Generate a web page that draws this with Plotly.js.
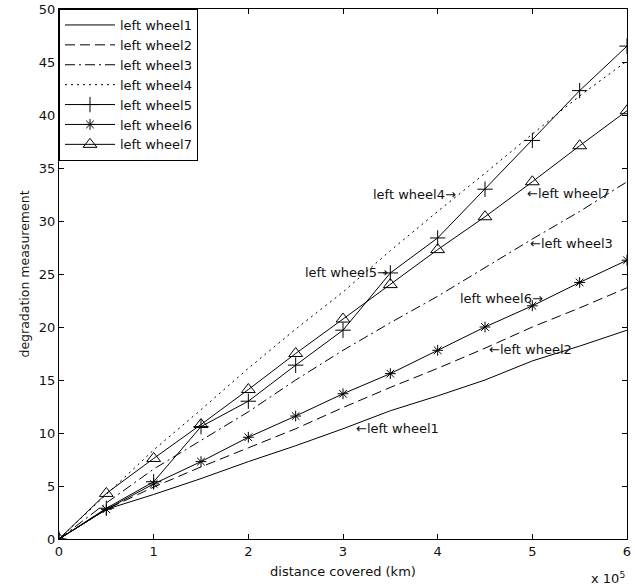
<!DOCTYPE html>
<html>
<head>
<meta charset="utf-8">
<script src="https://cdn.plot.ly/plotly-3.0.1.min.js"></script>
<style>html,body{margin:0;padding:0;background:#fff;}#chart{width:635px;height:588px;}</style>
</head>
<body>
<div id="chart"></div>
<script>
// distance covered, in units of 10^5 km
const distance = [0, 0.5, 1, 1.5, 2, 2.5, 3, 3.5, 4, 4.5, 5, 5.5, 6];
const wheel1 = [0, 2.8, 4.2, 5.7, 7.3, 8.8, 10.4, 12.1, 13.5, 15.0, 16.8, 18.2, 19.7];
const wheel2 = [0, 2.8, 4.9, 6.8, 8.6, 10.4, 12.4, 14.3, 16.1, 18.0, 20.0, 21.8, 23.7];
const wheel3 = [0, 3.4, 6.6, 9.3, 12.0, 15.0, 17.8, 20.4, 22.9, 25.6, 28.3, 30.9, 33.7];
const wheel4 = [0, 4.2, 8.4, 12.2, 16.1, 19.8, 23.3, 27.2, 30.9, 34.5, 38.2, 41.8, 45.1];
const wheel5 = [0, 2.9, 5.4, 10.6, 13.0, 16.4, 19.7, 25.1, 28.4, 33.0, 37.6, 42.3, 46.5];
const wheel6 = [0, 2.8, 5.2, 7.3, 9.6, 11.6, 13.7, 15.6, 17.8, 20.0, 22.0, 24.2, 26.3];
const wheel7 = [0, 4.3, 7.6, 10.8, 14.1, 17.5, 20.75, 24.0, 27.3, 30.4, 33.7, 37.1, 40.4];
const names = ["left wheel1", "left wheel2", "left wheel3", "left wheel4", "left wheel5", "left wheel6", "left wheel7"];
const xTicks = [0, 1, 2, 3, 4, 5, 6];
const xTickText = ["0", "1", "2", "3", "4", "5", "6"];
const yTicks = [0, 5, 10, 15, 20, 25, 30, 35, 40, 45, 50];

// in-plot labels: [text, x, y, anchor]
const labels = [
  ["left wheel4\u2192", 4.22, 32.5, "right"],
  ["\u2190left wheel7", 4.92, 32.6, "left"],
  ["left wheel5\u2192", 3.5, 25.1, "right"],
  ["\u2190left wheel3", 4.95, 27.9, "left"],
  ["left wheel6\u2192", 5.13, 22.7, "right"],
  ["\u2190left wheel2", 4.52, 17.9, "left"],
  ["\u2190left wheel1", 3.12, 10.4, "left"]
];

const series = [wheel1, wheel2, wheel3, wheel4, wheel5, wheel6, wheel7];
const dashes = ["solid", "10px,5px", "10px,4px,2px,4px", "2px,4px", "solid", "solid", "solid"];
const markers = [null, null, null, null, "cross-thin-open", "asterisk-open", "triangle-up-open"];
const msizes = [0, 0, 0, 0, 11, 9, 12];

const traces = series.map((s, i) => {
  const t = {
    x: distance, y: s, name: names[i], type: "scatter",
    mode: markers[i] ? "lines+markers" : "lines",
    line: {color: "#000", width: 1, dash: dashes[i]}
  };
  if (markers[i]) {
    t.marker = {symbol: markers[i], size: msizes[i], color: "#000", line: {color: "#000", width: 1}};
  }
  return t;
});

const fam = "DejaVu Sans, Verdana, sans-serif";
const font = {family: fam, size: 13, color: "#111"};

const annotations = labels.map(l => ({
  text: l[0], x: l[1], y: l[2], xref: "x", yref: "y", showarrow: false,
  xanchor: l[3], yanchor: "middle", font: font
}));
annotations.push({
  text: "x 10<sup>5</sup>", xref: "paper", yref: "paper", x: 1.0, y: 0, yshift: -29,
  xanchor: "right", yanchor: "top", showarrow: false, font: font
});

const layout = {
  width: 635, height: 588,
  margin: {l: 59, r: 8, t: 9, b: 49},
  paper_bgcolor: "#fff", plot_bgcolor: "#fff",
  font: font,
  showlegend: true,
  legend: {x: 0, y: 1, xanchor: "left", yanchor: "top", bgcolor: "#fff",
           bordercolor: "#000", borderwidth: 1, font: font, itemwidth: 50},
  xaxis: {
    range: [0, 6], tickvals: xTicks, ticktext: xTickText,
    ticks: "inside", ticklen: 5, tickcolor: "#000", mirror: "ticks",
    showline: true, linecolor: "#000", linewidth: 1, showgrid: false, zeroline: false,
    title: {text: "distance covered (km)", font: font, standoff: 9},
    tickfont: font
  },
  yaxis: {
    range: [0, 50], tickvals: yTicks,
    ticks: "inside", ticklen: 5, tickcolor: "#000", mirror: "ticks",
    showline: true, linecolor: "#000", linewidth: 1, showgrid: false, zeroline: false,
    title: {text: "degradation measurement", font: {family: fam, size: 12.5, color: "#111"}, standoff: 6},
    tickfont: font
  },
  annotations: annotations
};

Plotly.newPlot("chart", traces, layout, {displayModeBar: false, staticPlot: true});
</script>
</body>
</html>
